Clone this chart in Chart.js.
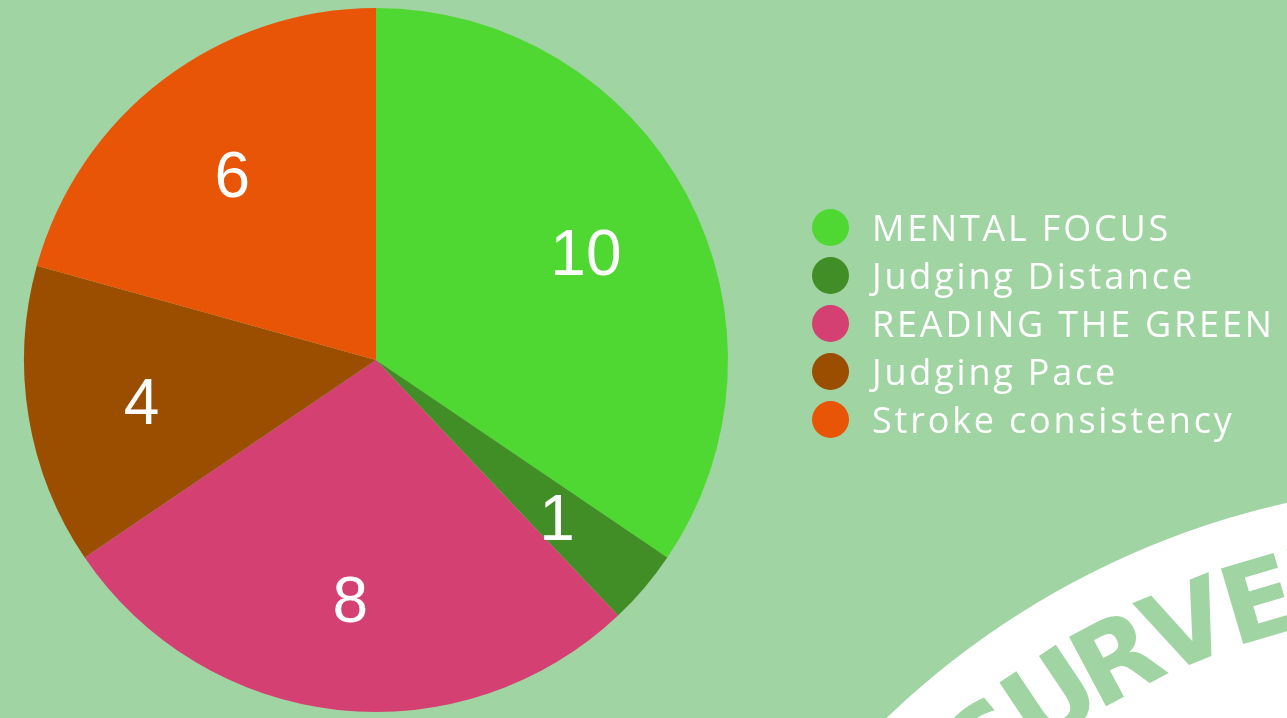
<!DOCTYPE html>
<html>
<head>
<meta charset="utf-8">
<script src="https://cdn.jsdelivr.net/npm/chart.js@4"></script>
<style>
  html, body { margin: 0; padding: 0; background: #a0d4a3; overflow: hidden; }
  #wrap { position: relative; width: 1287px; height: 718px; }
  #legend { position: absolute; left: 812px; top: 203px; margin: 0; padding: 0; list-style: none; }
  #legend li { height: 48px; display: flex; align-items: center; color: #fff;
    font-family: 'Open Sans', sans-serif; font-weight: 400; font-size: 36px;
    letter-spacing: 2.8px; white-space: nowrap; }
  #legend span.dot { width: 37px; height: 37px; border-radius: 50%; margin-right: 23px; flex: none; }
</style>
</head>
<body>
<div id="wrap">
  <canvas id="pie" width="1287" height="718"></canvas>
  <ul id="legend"></ul>
</div>
<script>
var labels = ['MENTAL FOCUS', 'Judging Distance', 'READING THE GREEN', 'Judging Pace', 'Stroke consistency'];
var values = [10, 1, 8, 4, 6];
var colors = ['#4fd832', '#428e26', '#d44072', '#9b4d00', '#e85507'];

// white swoosh with curved "SURVEY" in the lower right corner
var backdrop = {
    id: 'backdrop',
    beforeDraw: function(chart) {
        var c = chart.ctx;
        var cx = 1473, cy = 1329, r = 847;
        c.save();
        c.fillStyle = '#ffffff';
        c.beginPath();
        c.arc(cx, cy, r, 0, Math.PI * 2);
        c.fill();
        c.fillStyle = '#a0d4a3';
        c.font = 'bold 108px "DejaVu Sans", sans-serif';
        c.textAlign = 'center';
        c.textBaseline = 'middle';
        var word = 'SURVEY';
        for (var i = 0; i < word.length; i++) {
            var a = (-129.6 + i * 5.8) * Math.PI / 180;
            c.save();
            c.translate(cx + 750 * Math.cos(a), cy + 750 * Math.sin(a));
            c.rotate(a + Math.PI / 2);
            c.fillText(word[i], 0, 0);
            c.restore();
        }
        c.restore();
    }
};

// value labels inside each slice
var sliceLabels = {
    id: 'sliceLabels',
    afterDatasetsDraw: function(chart) {
        var c = chart.ctx;
        var meta = chart.getDatasetMeta(0);
        c.save();
        c.fillStyle = '#ffffff';
        c.font = '64px "Liberation Sans", Arial, sans-serif';
        c.textAlign = 'center';
        c.textBaseline = 'alphabetic';
        meta.data.forEach(function(arc, i) {
            var p = arc.getProps(['x', 'y', 'startAngle', 'endAngle', 'outerRadius'], true);
            var mid = (p.startAngle + p.endAngle) / 2;
            var rr = p.outerRadius * 0.675;
            c.fillText(String(values[i]), p.x + rr * Math.cos(mid), p.y + rr * Math.sin(mid) + 26);
        });
        c.restore();
    }
};

var ctx = document.getElementById('pie').getContext('2d');
var myChart = new Chart(ctx, {
    type: 'pie',
    data: {
        labels: labels,
        datasets: [{
            data: values,
            backgroundColor: colors,
            borderWidth: 0
        }]
    },
    options: {
        responsive: false,
        animation: false,
        layout: { padding: { left: 24, right: 559, top: 8, bottom: 6 } },
        plugins: {
            legend: { display: false },
            tooltip: { enabled: false }
        }
    },
    plugins: [backdrop, sliceLabels]
});

var ul = document.getElementById('legend');
labels.forEach(function(name, i) {
    var li = document.createElement('li');
    li.innerHTML = '<span class="dot" style="background:' + colors[i] + '"></span>' + name;
    ul.appendChild(li);
});
</script>
</body>
</html>
